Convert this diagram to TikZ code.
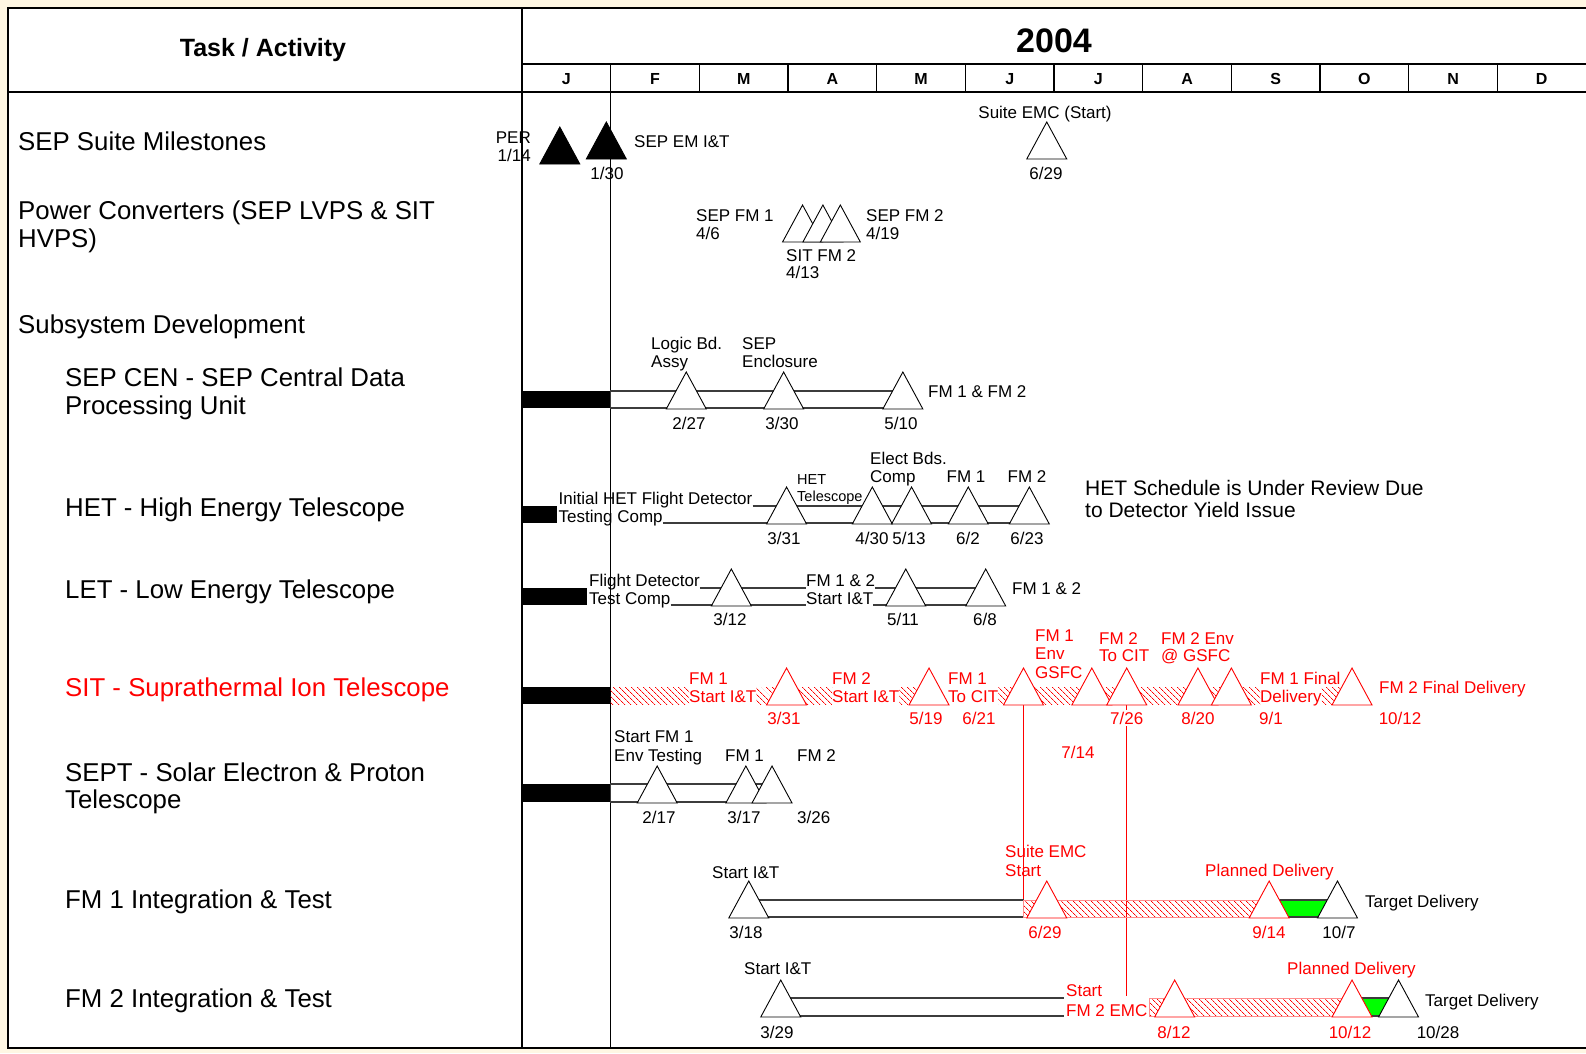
\documentclass[tikz,border=0pt]{standalone}
\usepackage{fontspec}
\setmainfont{Liberation Sans}
\usetikzlibrary{patterns.meta, positioning}
\definecolor{bgCream}{HTML}{FFF7E3}
\definecolor{barGrey}{HTML}{3C3C3C}
\definecolor{sitRed}{HTML}{FF0000}
\definecolor{okGreen}{HTML}{00FF00}
\tikzset{
  declare function={mx(\m,\d)=522+88.67*(\m-1+(\d-1)/30.5);},
  txt/.style       = {inner sep=0pt, text depth=0pt},
  task/.style      = {txt, font=\fontsize{25.8}{29}\selectfont, text height=18.5pt, right},
  lbl/.style       = {txt, font=\fontsize{17}{19}\selectfont, text height=12.2pt},
  slbl/.style      = {txt, font=\fontsize{14.5}{16}\selectfont, text height=10.4pt},
  remark/.style    = {txt, font=\fontsize{21}{23}\selectfont, text height=15pt},
  mon/.style       = {txt, font=\bfseries\fontsize{16}{18}\selectfont, text height=11.5pt},
  hdr/.style       = {txt, font=\bfseries\fontsize{25}{28}\selectfont, text height=18pt},
  redlbl/.style    = {lbl, sitRed},
  barline/.style   = {barGrey, line width=1.2pt},
  openbar/.style   = {barline, fill=white},
  donebar/.style   = {fill=black},
  hatchbar/.style  = {pattern={Lines[angle=-45, distance=4pt, line width=0.8pt]},
                      pattern color=sitRed},
  hatchedge/.style = {hatchbar, draw=sitRed!45, line width=0.6pt},
  slip/.style      = {barline, fill=okGreen},
  outerframe/.style= {line width=2.5pt},
  gridrule/.style  = {line width=1.8pt},
  gridtick/.style  = {line width=1.2pt},
  ms/.pic          = {\draw[fill=white, line width=0.9pt] (-20,0) -- (0,-37) -- (20,0) -- cycle;},
  msb/.pic         = {\draw[fill=black, line width=0.9pt] (-20,0) -- (0,-37) -- (20,0) -- cycle;},
}
\begin{document}
\begin{tikzpicture}[x=1pt, y=-1pt]
  \fill[bgCream] (0,0) rectangle (1586,1053);
  \useasboundingbox (0,0) rectangle (1586,1053);
  \fill[white] (8,8) rectangle (1590,1048);

  % frame and calendar grid
  \draw[outerframe] (1590,8) -- (8,8) -- (8,1048) -- (1590,1048);
  \draw[gridrule] (522,8) -- (522,1048);
  \draw[gridrule] (8,92) -- (1590,92);
  \draw[gridtick] (522,64) -- (1590,64);
  \foreach \k in {2,...,11}
    \draw[gridtick] ({522+88.67*\k},64) -- ({522+88.67*\k},92);
  \draw[gridtick] (610.67,64) -- (610.67,1048);

  \node[hdr] (hTask) at (263,47) {Task / Activity};
  \node[txt, font=\bfseries\fontsize{34}{38}\selectfont, text height=24.5pt] (hYear) at (1054,40) {2004};
  \foreach \mn [count=\k] in {J,F,M,A,M,J,J,A,S,O,N,D}
    \node[mon] (m\k) at ({522+88.67*(\k-0.5)},79) {\mn};

  % task column
  \node[task] (tSuite) at (18,141) {SEP Suite Milestones};
  \node[task] (tPowA) at (18,210) {Power Converters (SEP LVPS \& SIT};
  \node[task] (tPowB) at (18,238) {HVPS)};
  \node[task] (tSub) at (18,324) {Subsystem Development};
  \node[task] (tCenA) at (65,377) {SEP CEN - SEP Central Data};
  \node[task] (tCenB) at (65,405) {Processing Unit};
  \node[task] (tHet) at (65,507) {HET - High Energy Telescope};
  \node[task] (tLet) at (65,589) {LET - Low Energy Telescope};
  \node[task, sitRed] (tSit) at (65,687) {SIT - Suprathermal Ion Telescope};
  \node[task] (tSeptA) at (65,772) {SEPT - Solar Electron \& Proton};
  \node[task] (tSeptB) at (65,799) {Telescope};
  \node[task] (tFmA) at (65,899) {FM 1 Integration \& Test};
  \node[task] (tFmB) at (65,998) {FM 2 Integration \& Test};

  % SEP suite milestones
  \pic at ({mx(1,14)},164) {msb};
  \pic at ({mx(1,30)},159) {msb};
  \pic at ({mx(6,29)},159) {ms};
  \node[lbl, left] (perA) at (531,137) {PER};
  \node[lbl, left] (perB) at (531,155) {1/14};
  \node[lbl] (emD) at (607,173) {1/30};
  \node[lbl, right] (emL) at (634,141) {SEP EM I\&T};
  \node[lbl] (emcL) at (1045,112) {Suite EMC (Start)};
  \node[lbl] (emcD) at (1046,173) {6/29};

  % power converters
  \foreach \d in {6,13,19}
    \pic at ({mx(4,\d)},242) {ms};
  \node[lbl, right] (pcA) at (696,215) {SEP FM 1};
  \node[lbl, right] (pcAd) at (696,233) {4/6};
  \node[lbl, right] (pcC) at (866,215) {SEP FM 2};
  \node[lbl, right] (pcCd) at (866,233) {4/19};
  \node[lbl, right] (pcB) at (786,255) {SIT FM 2};
  \node[lbl, right] (pcBd) at (786,272) {4/13};

  % SEP CEN
  \fill[donebar] (522,391) rectangle (610.67,408);
  \draw[openbar] (610.67,391) rectangle ({mx(5,10)},408);
  \foreach \m/\d in {2/27,3/30,5/10}
    \pic at ({mx(\m,\d)},409) {ms};
  \node[lbl, right] (cenA1) at (651,343) {Logic Bd.};
  \node[lbl, right] (cenA2) at (651,361) {Assy};
  \node[lbl, right] (cenB1) at (742,343) {SEP};
  \node[lbl, right] (cenB2) at (742,361) {Enclosure};
  \node[lbl, right] (cenC) at (928,391) {FM 1 \& FM 2};
  \node[lbl] at (689,423) {2/27};
  \node[lbl] at (782,423) {3/30};
  \node[lbl] at (901,423) {5/10};

  % HET
  \node[lbl, right] (hetA) at (558.5,498) {Initial HET Flight Detector};
  \node[lbl, right] (hetB) at (558.5,516) {Testing Comp};
  \fill[donebar] (522,506) rectangle ([xshift=-2pt]hetA.west |- 0,523);
  \draw[barline] (hetA.east |- 0,506) -- ({mx(6,23)},506);
  \draw[barline] (hetB.east |- 0,523) -- ({mx(6,23)},523);
  \foreach \m/\d in {3/31,4/30,5/13,6/2,6/23}
    \pic at ({mx(\m,\d)},524) {ms};
  \node[slbl, right] (hetT1) at (797,479) {HET};
  \node[slbl, right] (hetT2) at (797,496) {Telescope};
  \node[lbl, right] (hetE1) at (870,458) {Elect Bds.};
  \node[lbl, right] (hetE2) at (870,476) {Comp};
  \node[lbl] (hetF1) at (966,476) {FM 1};
  \node[lbl] (hetF2) at (1027,476) {FM 2};
  \node[lbl] at (784,538) {3/31};
  \node[lbl] at (872,538) {4/30};
  \node[lbl] at (909,538) {5/13};
  \node[lbl] at (968,538) {6/2};
  \node[lbl] at (1027,538) {6/23};
  \node[remark, right] (hetN1) at (1085,488) {HET Schedule is Under Review Due};
  \node[remark, right] (hetN2) at (1085,510) {to Detector Yield Issue};

  % LET
  \node[lbl, right] (letA) at (589,580) {Flight Detector};
  \node[lbl, right] (letB) at (589,598) {Test Comp};
  \node[lbl, right] (letC) at (806,580) {FM 1 \& 2};
  \node[lbl, right] (letD) at (806,598) {Start I\&T};
  \fill[donebar] (522,588) rectangle ([xshift=-2pt]letA.west |- 0,605);
  \draw[barline] (letA.east |- 0,588) -- (letC.west |- 0,588)
                 (letC.east |- 0,588) -- ({mx(6,8)},588);
  \draw[barline] (letB.east |- 0,605) -- (letD.west |- 0,605)
                 (letD.east |- 0,605) -- ({mx(6,8)},605);
  \foreach \m/\d in {3/12,5/11,6/8}
    \pic at ({mx(\m,\d)},606) {ms};
  \node[lbl, right] (letE) at (1012,588) {FM 1 \& 2};
  \node[lbl] at (730,619) {3/12};
  \node[lbl] at (903,619) {5/11};
  \node[lbl] at (985,619) {6/8};

  % SIT
  \node[redlbl, right] (sitA1) at (689,678) {FM 1};
  \node[redlbl, right] (sitA2) at (689,696) {Start I\&T};
  \node[redlbl, right] (sitB1) at (832,678) {FM 2};
  \node[redlbl, right] (sitB2) at (832,696) {Start I\&T};
  \node[redlbl, right] (sitC1) at (948,678) {FM 1};
  \node[redlbl, right] (sitC2) at (948,696) {To CIT};
  \node[redlbl, right] (sitF1) at (1260,678) {FM 1 Final};
  \node[redlbl, right] (sitF2) at (1260,696) {Delivery};
  \fill[donebar] (522,687) rectangle (610.67,704);
  \fill[hatchbar] (610.67,687) rectangle (sitA2.west |- 0,704);
  \fill[hatchbar] (sitA2.east |- 0,687) rectangle (sitB2.west |- 0,704);
  \fill[hatchbar] (sitB2.east |- 0,687) rectangle ({mx(5,19)},704);
  \fill[hatchbar] (sitC2.east |- 0,687) rectangle (sitF2.west |- 0,704);
  \fill[hatchbar] (sitF2.east |- 0,687) rectangle ({mx(10,12)},704);
  \draw[sitRed, line width=1pt] ({mx(6,21)},705) -- ({mx(6,21)},900);
  \draw[sitRed, line width=1pt] ({mx(7,26)},705) -- ({mx(7,26)},996);
  \foreach \m/\d in {3/31,5/19,6/21,7/14,7/26,8/20,9/1,10/12}
    \pic[sitRed] at ({mx(\m,\d)},705) {ms};
  \node[redlbl, right] (sitG1) at (1035,635) {FM 1};
  \node[redlbl, right] (sitG2) at (1035,653) {Env};
  \node[redlbl, right] (sitG3) at (1035,672) {GSFC};
  \node[redlbl, right] (sitH1) at (1099,638) {FM 2};
  \node[redlbl, right] (sitH2) at (1099,655) {To CIT};
  \node[redlbl, right] (sitK1) at (1161,638) {FM 2 Env};
  \node[redlbl, right] (sitK2) at (1161,655) {@ GSFC};
  \node[redlbl, right] (sitL) at (1379,687) {FM 2 Final Delivery};
  \node[redlbl] at (784,718) {3/31};
  \node[redlbl] at (926,718) {5/19};
  \node[redlbl] at (979,718) {6/21};
  \node[redlbl] at (1078,752) {7/14};
  \node[redlbl, fill=white, inner xsep=1pt, inner ysep=2pt] at ({mx(7,26)},718) {7/26};
  \node[redlbl] at (1198,718) {8/20};
  \node[redlbl] at (1271,718) {9/1};
  \node[redlbl] at (1400,718) {10/12};

  % SEPT
  \fill[donebar] (522,784) rectangle (610.67,802);
  \draw[openbar] (610.67,784) rectangle ({mx(3,26)},802);
  \foreach \m/\d in {2/17,3/17,3/26}
    \pic at ({mx(\m,\d)},803) {ms};
  \node[lbl, right] (septA1) at (614,736) {Start FM 1};
  \node[lbl, right] (septA2) at (614,755) {Env Testing};
  \node[lbl, right] (septB) at (725,755) {FM 1};
  \node[lbl, right] (septC) at (797,755) {FM 2};
  \node[lbl] at (659,817) {2/17};
  \node[lbl] at (744,817) {3/17};
  \node[lbl, right] at (797,817) {3/26};

  % FM 1 integration and test
  \draw[openbar] ({mx(3,18)},900) rectangle ({mx(6,21)},917);
  \fill[hatchedge] ({mx(6,21)},900) rectangle ({mx(9,14)},917);
  \draw[slip] ({mx(9,14)},900) rectangle ({mx(10,7)},917);
  \pic at ({mx(3,18)},918) {ms};
  \pic[sitRed] at ({mx(6,29)},918) {ms};
  \pic[sitRed] at ({mx(9,14)},918) {ms};
  \pic at ({mx(10,7)},918) {ms};
  \node[lbl, right] (fm1S) at (712,872) {Start I\&T};
  \node[redlbl, right] (fm1E1) at (1005,851) {Suite EMC};
  \node[redlbl, right] (fm1E2) at (1005,870) {Start};
  \node[redlbl, right] (fm1P) at (1205,870) {Planned Delivery};
  \node[lbl, right] (fm1T) at (1365,901) {Target Delivery};
  \node[lbl] at (746,932) {3/18};
  \node[redlbl] at (1045,932) {6/29};
  \node[redlbl] at (1269,932) {9/14};
  \node[lbl] at (1339,932) {10/7};

  % FM 2 integration and test
  \node[redlbl, right] (fm2S1) at (1066,990) {Start};
  \node[redlbl, right] (fm2S2) at (1066,1010) {FM 2 EMC};
  \draw[barline] ({mx(3,29)},998) -- ([xshift=-2pt]fm2S2.west |- 0,998)
                 ({mx(3,29)},1016) -- ([xshift=-2pt]fm2S2.west |- 0,1016);
  \fill[hatchedge] ([xshift=2pt]fm2S2.east |- 0,998) rectangle ({mx(10,12)},1016);
  \draw[slip] ({mx(10,12)},998) rectangle ({mx(10,28)},1016);
  \pic at ({mx(3,29)},1017) {ms};
  \pic[sitRed] at ({mx(8,12)},1017) {ms};
  \pic[sitRed] at ({mx(10,12)},1017) {ms};
  \pic at ({mx(10,28)},1017) {ms};
  \node[lbl, right] (fm2T0) at (744,968) {Start I\&T};
  \node[redlbl, right] (fm2P) at (1287,968) {Planned Delivery};
  \node[lbl, right] (fm2T) at (1425,1000) {Target Delivery};
  \node[lbl] at (777,1032) {3/29};
  \node[redlbl] at (1174,1032) {8/12};
  \node[redlbl] at (1350,1032) {10/12};
  \node[lbl] at (1438,1032) {10/28};
\end{tikzpicture}
\end{document}
